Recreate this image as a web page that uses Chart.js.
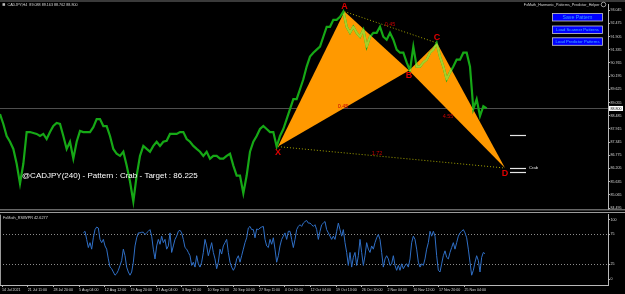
<!DOCTYPE html>
<html>
<head>
<meta charset="utf-8">
<script src="https://cdn.jsdelivr.net/npm/chart.js@4.4.0/dist/chart.umd.min.js"></script>
<style>
html, body { margin: 0; padding: 0; background: #000; }
#wrap { position: relative; width: 625px; height: 294px; background: #000; overflow: hidden; }
#main { position: absolute; left: 0; top: 0; }
#sub { position: absolute; left: 0; top: 212px; }
</style>
</head>
<body>
<div id="wrap">
  <canvas id="main" width="625" height="212"></canvas>
  <canvas id="sub" width="625" height="82"></canvas>
</div>
<script>
// ---- data ----
var symbolInfo = "CADJPY,H4  89.088 89.163 88.762 88.800";
var helperName = "FxMath_Harmonic_Patterns_Predictor_Helper";
var buttonLabels = ["Save Pattern", "Load Scanner Patterns", "Load Predictor Patterns"];
var patternText = "@CADJPY(240) - Pattern : Crab - Target : 86.225";

// close prices, one sample every priceStep bars
var priceStep = 10 / 3;
var closes = [
  88.56, 88.13, 87.61, 87.36, 87.05, 86.41, 85.55, 86.41, 87.78, 87.78,
  87.74, 87.70, 87.61, 87.70, 87.48, 87.78, 88.04, 88.17, 88.13, 87.61,
  87.05, 87.36, 86.63, 87.36, 87.83, 87.78, 87.78, 87.78, 87.99, 88.34,
  88.34, 88.04, 88.04, 87.61, 87.05, 86.84, 86.75, 86.93, 86.33, 85.64,
  84.78, 85.90, 86.75, 87.18, 87.05, 86.93, 87.18, 87.36, 87.18, 87.36,
  87.40, 87.70, 87.70, 87.70, 87.78, 87.78, 87.48, 87.36, 87.18, 87.05,
  86.93, 86.75, 86.93, 86.63, 86.75, 86.75, 86.63, 86.63, 86.75, 86.84,
  86.33, 85.90, 85.90, 85.13, 85.90, 86.93, 87.36, 87.61, 87.91, 88.04,
  87.91, 87.78, 87.78, 87.15, 87.61, 87.91, 88.34, 88.77, 89.20, 89.20,
  89.63, 90.06, 90.61, 91.04, 91.21, 91.34, 91.47, 91.90, 92.33, 92.33,
  92.63, 92.63, 92.76, 92.99, 92.33, 92.07, 92.33, 92.07, 91.90, 92.20,
  91.47, 91.90, 92.07, 92.07, 92.33, 91.90, 91.77, 92.07, 91.77, 91.34,
  91.21, 91.21, 90.79, 90.44, 91.47, 90.61, 90.61, 90.79, 90.91, 91.21,
  91.34, 91.63, 91.04, 90.61, 90.06, 90.36, 90.61, 90.91, 90.91, 91.21,
  91.21, 90.61, 88.77, 89.20, 88.47, 88.90, 88.80
];
var lastPrice = 88.80;
var priceMin = 84.439;
var priceMax = 93.315;
var priceTicks = [93.045, 92.475, 91.905, 91.335, 90.765, 90.195, 89.625, 89.055,
                  88.485, 87.915, 87.345, 86.775, 86.205, 85.635, 85.065, 84.495];

// harmonic pattern
var patternNames = ["X", "A", "B", "C", "D"];
var patternBars = [278, 344.5, 409, 437, 505];
var patternPrices = [87.15, 92.99, 90.44, 91.63, 86.225];
var ratioText = ["0.45", "0.45", "4.55", "1.72"];
var ratioBars = [343, 390, 448, 377];
var ratioPrices = [88.90, 92.44, 88.47, 86.84];
var targetName = "Crab";
var targetPrices = [87.655, 86.225, 86.07];
var targetBars = [510, 526];

// indicator pane
var rsiName = "FxMath_RSIWPR";
var rsiStart = 250 / 3;
var rsiStep = 5 / 3;
var rsiValues = [
  77.6, 80.3, 66.7, 53.0, 61.2, 50.3, 69.4, 83.1, 87.4, 85.8,
  66.7, 61.2, 66.7, 55.7, 50.3, 33.9, 20.2, 17.5, 12.0, 6.6,
  9.3, 14.8, 23.0, 31.1, 50.3, 39.3, 20.2, 12.0, 6.6, 12.0,
  28.4, 55.7, 69.4, 77.6, 77.6, 78.7, 78.7, 74.9, 77.6, 80.3,
  83.1, 72.1, 50.3, 33.9, 55.7, 66.7, 58.5, 72.1, 61.2, 66.7,
  50.3, 55.7, 77.6, 44.8, 55.7, 66.7, 72.1, 80.3, 82.0, 77.6,
  66.7, 53.0, 50.3, 44.8, 39.3, 23.0, 28.4, 20.2, 39.3, 25.7,
  20.2, 28.4, 44.8, 66.7, 55.7, 39.3, 50.3, 61.2, 44.8, 33.9,
  17.5, 28.4, 50.3, 42.1, 55.7, 61.2, 66.7, 44.8, 28.4, 20.2,
  14.8, 20.2, 33.9, 39.3, 28.4, 39.3, 50.3, 61.2, 69.4, 85.8,
  88.5, 83.1, 83.1, 69.4, 84.2, 83.1, 85.8, 87.4, 88.5, 66.7,
  55.7, 53.0, 66.7, 58.5, 69.4, 50.3, 28.4, 39.3, 55.7, 66.7,
  72.1, 77.6, 66.7, 80.3, 80.3, 66.7, 53.0, 66.7, 83.1, 88.5,
  91.3, 88.5, 94.0, 96.7, 98.4, 94.0,
  94.0, 91.3, 88.5, 91.3, 83.1, 66.7, 80.3, 91.3, 94.0, 96.7,
  83.1, 77.6, 72.1, 66.7, 72.1, 66.7, 80.3, 94.0, 83.1, 72.1,
  83.1, 61.2, 44.8, 23.0, 44.8, 20.2, 36.6, 44.8, 23.0, 39.3,
  66.7, 44.8, 23.0, 39.3, 61.2, 50.3, 44.8, 55.7, 50.3, 61.2,
  69.4, 74.9, 66.7, 44.8, 20.2, 33.9, 39.3, 33.9, 23.0, 25.7,
  39.3, 23.0, 14.8, 23.0, 14.8, 25.7, 17.5, 23.0, 25.7, 20.2,
  33.9, 61.2, 72.1, 66.7, 50.3, 28.4, 20.2, 25.7, 23.0, 33.9,
  50.3, 61.2, 80.3, 72.1, 80.3, 72.1, 39.3, 14.8, 12.0, 25.7,
  39.3, 47.5, 36.6, 33.9, 44.8, 53.0, 61.2, 50.3, 61.2, 72.1,
  77.6, 80.3, 83.1, 77.6, 69.4, 50.3, 28.4, 6.6, 14.8, 28.4,
  39.3, 31.1, 12.0, 36.6, 44.8, 42.6277
];
var rsiMin = -9.84;
var rsiMax = 108.2;
var rsiTicks = [0, 25, 75, 100];
var rsiLevels = [25, 75];

// time axis
var barCount = 608;
var timeBars = [2, 27.7, 53.4, 79.1, 104.8, 130.5, 156.2, 181.9, 207.6, 233.3,
                259, 284.7, 310.4, 336.1, 361.8, 387.5, 413.2, 438.9, 464.6];
var timeLabels = ["14 Jul 2021", "21 Jul 11:00", "28 Jul 20:00", "5 Aug 04:00", "12 Aug 12:00",
                  "19 Aug 20:00", "27 Aug 04:00", "3 Sep 12:00", "10 Sep 20:00", "20 Sep 04:00",
                  "27 Sep 11:00", "4 Oct 20:00", "12 Oct 04:00", "19 Oct 13:00", "26 Oct 20:00",
                  "2 Nov 04:00", "10 Nov 12:00", "17 Nov 20:00", "25 Nov 04:00"];

// ---- drawing ----
var axisColor = '#b8b8b8';
var textColor = '#d8d8d8';
var tinyFont = { family: 'Liberation Sans', size: 3.6 };

function pt(chart, i) {
  return [chart.scales.x.getPixelForValue(patternBars[i]), chart.scales.y.getPixelForValue(patternPrices[i])];
}
function addTriangle(ctx, chart, i, j, k) {
  var p = pt(chart, i), q = pt(chart, j), r = pt(chart, k);
  ctx.moveTo(p[0], p[1]); ctx.lineTo(q[0], q[1]); ctx.lineTo(r[0], r[1]); ctx.closePath();
}

var mainDecor = {
  id: 'mainDecor',
  beforeDatasetsDraw: function (chart) {
    var ctx = chart.ctx, a = chart.chartArea;
    ctx.save();
    ctx.beginPath(); ctx.rect(a.left, a.top, a.right - a.left, a.bottom - a.top); ctx.clip();

    var yp = Math.round(chart.scales.y.getPixelForValue(lastPrice)) + 0.5;
    ctx.strokeStyle = '#4e4e4e'; ctx.lineWidth = 1;
    ctx.beginPath(); ctx.moveTo(a.left, yp); ctx.lineTo(a.right, yp); ctx.stroke();

    ctx.fillStyle = '#ff9900';
    ctx.beginPath(); addTriangle(ctx, chart, 0, 1, 2); ctx.fill();
    ctx.beginPath(); addTriangle(ctx, chart, 2, 3, 4); ctx.fill();

    ctx.strokeStyle = '#a3a300'; ctx.setLineDash([1, 2]);
    [[1, 3], [0, 4]].forEach(function (l) {
      var p = pt(chart, l[0]), q = pt(chart, l[1]);
      ctx.beginPath(); ctx.moveTo(p[0], p[1]); ctx.lineTo(q[0], q[1]); ctx.stroke();
    });
    ctx.restore();
  },
  afterDatasetsDraw: function (chart) {
    var ctx = chart.ctx, x = chart.scales.x, y = chart.scales.y;
    var meta = chart.getDatasetMeta(0);

    // price bars over the filled triangles look yellow-green
    ctx.save();
    ctx.beginPath(); addTriangle(ctx, chart, 0, 1, 2); addTriangle(ctx, chart, 2, 3, 4); ctx.clip();
    ctx.strokeStyle = '#a6d02a'; ctx.lineWidth = 2.2; ctx.lineJoin = 'round';
    ctx.beginPath();
    meta.data.forEach(function (p, i) { if (i) ctx.lineTo(p.x, p.y); else ctx.moveTo(p.x, p.y); });
    ctx.stroke();
    ctx.restore();

    ctx.save();
    // pattern point letters
    ctx.font = 'bold 9px "Liberation Sans"'; ctx.fillStyle = '#e00000';
    ctx.textAlign = 'center'; ctx.textBaseline = 'middle';
    patternNames.forEach(function (n, i) {
      var p = pt(chart, i);
      var prev = i > 0 ? patternPrices[i - 1] : -Infinity;
      var next = i < patternPrices.length - 1 ? patternPrices[i + 1] : -Infinity;
      var isHigh = patternPrices[i] > prev && patternPrices[i] > next;
      ctx.fillText(n, p[0], p[1] + (isHigh ? -5.5 : 5.5));
    });
    // ratios
    ctx.font = '5.5px "Liberation Sans"'; ctx.fillStyle = '#c80000';
    ratioText.forEach(function (t, i) {
      ctx.fillText(t, x.getPixelForValue(ratioBars[i]), y.getPixelForValue(ratioPrices[i]));
    });
    // target lines
    ctx.strokeStyle = '#e6e6e6'; ctx.lineWidth = 1.2;
    targetPrices.forEach(function (tp) {
      var yy = Math.round(y.getPixelForValue(tp)) + 0.5;
      ctx.beginPath(); ctx.moveTo(x.getPixelForValue(targetBars[0]), yy);
      ctx.lineTo(x.getPixelForValue(targetBars[1]), yy); ctx.stroke();
    });
    ctx.font = '4.2px "Liberation Sans"'; ctx.fillStyle = '#e6e6e6'; ctx.textAlign = 'left';
    ctx.fillText(targetName, x.getPixelForValue(targetBars[1]) + 3, y.getPixelForValue(targetPrices[1]));

    // info text
    ctx.font = '8px "Liberation Sans"'; ctx.fillStyle = '#ffffff';
    ctx.fillText(patternText, 22, 176);
    ctx.restore();
  },
  afterDraw: function (chart) {
    var ctx = chart.ctx, a = chart.chartArea, y = chart.scales.y;
    ctx.save();
    ctx.fillStyle = '#3a3a3a'; ctx.fillRect(0, 0, chart.width, 2);
    ctx.fillStyle = '#9a9a9a'; ctx.fillRect(0, a.bottom, chart.width, 1);

    // top-left symbol line
    ctx.fillStyle = '#bdbdbd'; ctx.fillRect(2.5, 3.2, 2.6, 2.6);
    ctx.font = '3.7px "Liberation Sans"'; ctx.fillStyle = textColor;
    ctx.textBaseline = 'middle'; ctx.textAlign = 'left';
    ctx.fillText(symbolInfo, 7.5, 4.5);

    // top-right helper name + icon
    ctx.textAlign = 'right';
    ctx.fillText(helperName, 599.5, 4.5);
    ctx.strokeStyle = '#bdbdbd'; ctx.lineWidth = 0.8;
    ctx.beginPath(); ctx.arc(603.5, 4.5, 2.3, 0, Math.PI * 2); ctx.stroke();

    // buttons
    var tops = [13.5, 26, 37.8];
    buttonLabels.forEach(function (b, i) {
      ctx.fillStyle = '#0000ff'; ctx.fillRect(552.5, tops[i], 50, 7.5);
      ctx.strokeStyle = '#c8c8c8'; ctx.lineWidth = 0.8; ctx.strokeRect(552.5, tops[i], 50, 7.5);
      ctx.fillStyle = i === 0 ? '#39a0ff' : '#43b4ff';
      ctx.font = (i === 0 ? 5.2 : 4.2) + 'px "Liberation Sans"';
      ctx.textAlign = 'center';
      ctx.fillText(b, 577.5, tops[i] + 4);
    });

    // last price tag
    var yp = y.getPixelForValue(lastPrice);
    ctx.fillStyle = '#ffffff'; ctx.fillRect(a.right + 1, yp - 2.5, 14, 5);
    ctx.fillStyle = '#000000'; ctx.font = '3.6px "Liberation Sans"'; ctx.textAlign = 'left';
    ctx.fillText(lastPrice.toFixed(3), a.right + 2.5, yp + 0.3);
    ctx.restore();
  }
};

var subDecor = {
  id: 'subDecor',
  beforeDatasetsDraw: function (chart) {
    var ctx = chart.ctx, a = chart.chartArea, y = chart.scales.y;
    ctx.save();
    ctx.strokeStyle = '#8c8c8c'; ctx.lineWidth = 1; ctx.setLineDash([1, 2]);
    rsiLevels.forEach(function (lv) {
      var yy = Math.round(y.getPixelForValue(lv)) + 0.5;
      ctx.beginPath(); ctx.moveTo(a.left, yy); ctx.lineTo(a.right, yy); ctx.stroke();
    });
    ctx.restore();
  },
  afterDraw: function (chart) {
    var ctx = chart.ctx, a = chart.chartArea;
    ctx.save();
    ctx.fillStyle = '#9a9a9a';
    ctx.fillRect(0, 0, chart.width, 1);
    ctx.fillRect(0, a.top, 1, a.bottom - a.top);
    ctx.font = '3.8px "Liberation Sans"'; ctx.fillStyle = textColor;
    ctx.textBaseline = 'middle'; ctx.textAlign = 'left';
    ctx.fillText(rsiName + ' ' + rsiValues[rsiValues.length - 1].toFixed(4), 3, a.top + 3);
    ctx.restore();
  }
};

new Chart(document.getElementById('main').getContext('2d'), {
  type: 'line',
  data: {
    datasets: [{
      label: 'CADJPY',
      data: closes.map(function (c, i) { return { x: i * priceStep, y: c }; }),
      borderColor: '#16a816',
      borderWidth: 2.2,
      pointRadius: 0,
      tension: 0
    }]
  },
  options: {
    responsive: false,
    animation: false,
    layout: { padding: { left: 0, right: 0, top: 4, bottom: 1 } },
    plugins: { legend: { display: false }, tooltip: { enabled: false } },
    scales: {
      x: { type: 'linear', display: false, min: 0, max: barCount },
      y: {
        position: 'right',
        min: priceMin,
        max: priceMax,
        afterBuildTicks: function (s) { s.ticks = priceTicks.map(function (v) { return { value: v }; }); },
        afterFit: function (s) { s.width = 17; },
        grid: { drawOnChartArea: false, drawTicks: true, tickLength: 2, color: axisColor },
        border: { display: true, color: axisColor, width: 1 },
        ticks: {
          autoSkip: false,
          padding: 0.5,
          color: textColor,
          font: tinyFont,
          callback: function (v) { return Number(v).toFixed(3); }
        }
      }
    }
  },
  plugins: [mainDecor]
});

new Chart(document.getElementById('sub').getContext('2d'), {
  type: 'line',
  data: {
    datasets: [{
      label: rsiName,
      data: rsiValues.map(function (v, i) { return { x: rsiStart + i * rsiStep, y: v }; }),
      borderColor: '#2f6fc6',
      borderWidth: 1,
      pointRadius: 0,
      tension: 0
    }]
  },
  options: {
    responsive: false,
    animation: false,
    layout: { padding: { left: 0, right: 0, top: 1, bottom: 0 } },
    plugins: { legend: { display: false }, tooltip: { enabled: false } },
    scales: {
      x: {
        type: 'linear',
        min: 0,
        max: barCount,
        afterBuildTicks: function (s) { s.ticks = timeBars.map(function (v) { return { value: v }; }); },
        afterFit: function (s) { s.height = 9; },
        grid: { drawOnChartArea: false, drawTicks: true, tickLength: 2, color: axisColor },
        border: { display: true, color: axisColor, width: 1 },
        ticks: {
          autoSkip: false,
          maxRotation: 0,
          align: 'start',
          padding: 1,
          color: textColor,
          font: tinyFont,
          callback: function (v, i) { return timeLabels[i]; }
        }
      },
      y: {
        position: 'right',
        min: rsiMin,
        max: rsiMax,
        afterBuildTicks: function (s) { s.ticks = rsiTicks.map(function (v) { return { value: v }; }); },
        afterFit: function (s) { s.width = 17; },
        grid: { drawOnChartArea: false, drawTicks: true, tickLength: 2, color: axisColor },
        border: { display: true, color: axisColor, width: 1 },
        ticks: { autoSkip: false, padding: 0.5, color: textColor, font: tinyFont }
      }
    }
  },
  plugins: [subDecor]
});
</script>
</body>
</html>
